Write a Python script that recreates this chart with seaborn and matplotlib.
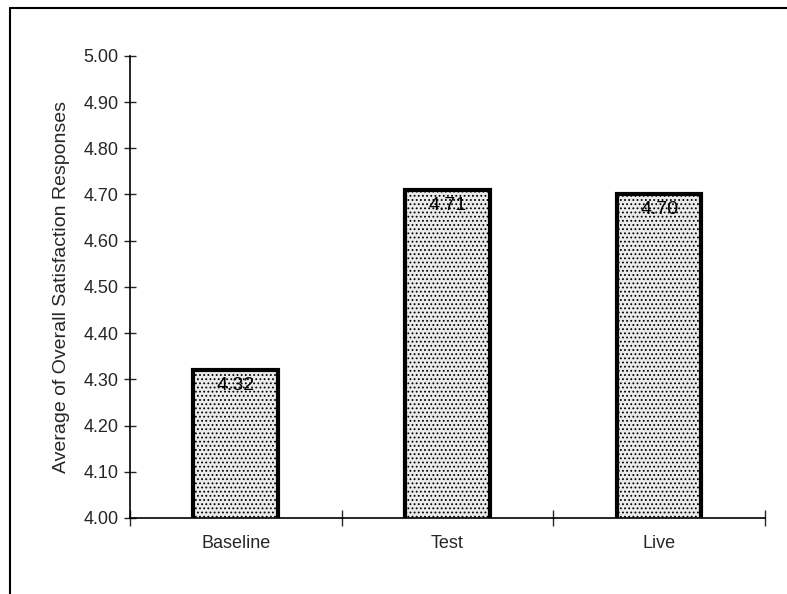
import matplotlib
matplotlib.use("Agg")
import matplotlib.pyplot as plt
import seaborn as sns
import pandas as pd
from matplotlib.ticker import FixedLocator

categories = ["Baseline", "Test", "Live"]
values = [4.32, 4.71, 4.70]
labels = ["4.32", "4.71", "4.70"]
yticks = [4.00, 4.10, 4.20, 4.30, 4.40, 4.50, 4.60, 4.70, 4.80, 4.90, 5.00]

sns.set_style("white")
plt.rcParams["font.family"] = ["Liberation Sans Narrow", "Liberation Sans", "DejaVu Sans"]
plt.rcParams["hatch.color"] = "#808080"
plt.rcParams["hatch.linewidth"] = 0.8

df = pd.DataFrame({"cat": categories, "val": values})
fig = plt.figure(figsize=(7.87, 5.94), dpi=100)
ax = fig.add_axes([0.165, 0.128, 0.807, 0.778])
sns.barplot(data=df, x="cat", y="val", color="#ebebeb", width=0.4,
            edgecolor="black", linewidth=3, ax=ax, saturation=1)
for p in ax.patches:
    p.set_hatch("....")
    p.set_edgecolor("black")

ax.set_ylim(4.0, 5.0)
ax.set_xlim(-0.5, 2.5)
ax.set_yticks(yticks)
ax.set_yticklabels([f"{t:.2f}" for t in yticks], fontsize=13)
ax.set_xticks(range(len(categories)))
ax.set_xticklabels(categories, fontsize=13)
ax.xaxis.set_minor_locator(FixedLocator([-0.5, 0.5, 1.5, 2.5]))
ax.tick_params(axis="x", which="major", length=0, pad=12)
ax.tick_params(axis="x", which="minor", length=12, width=1, direction="inout", bottom=True)
ax.tick_params(axis="y", which="major", length=8, width=1, direction="inout", left=True, pad=4)
ax.set_xlabel("")
ax.set_ylabel("Average of Overall Satisfaction Responses", fontsize=14, labelpad=10)

for sp in ["top", "right"]:
    ax.spines[sp].set_visible(False)
for sp in ["left", "bottom"]:
    ax.spines[sp].set_color("black")
    ax.spines[sp].set_linewidth(1.2)

for i, (v, lab) in enumerate(zip(values, labels)):
    ax.text(i, v - 0.033, lab, ha="center", va="center", fontsize=14, color="black")

# scanned-page frame lines
fig.add_artist(plt.Line2D([10/787, 10/787], [0, 1 - 8/594], transform=fig.transFigure, color="black", lw=1.5))
fig.add_artist(plt.Line2D([10/787, 1], [1 - 8/594, 1 - 8/594], transform=fig.transFigure, color="black", lw=1.5))

fig.savefig("out.png", dpi=100)
